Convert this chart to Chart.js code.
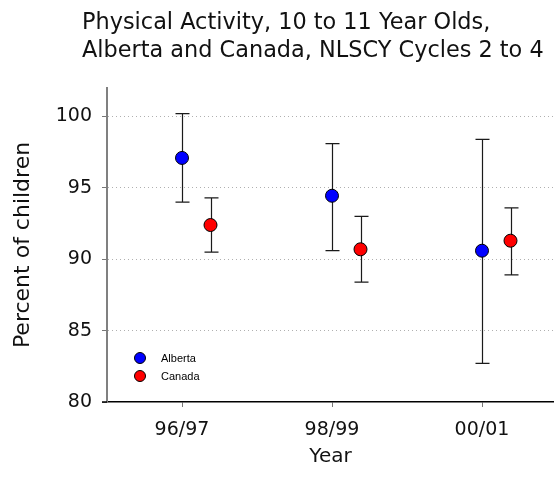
<!DOCTYPE html>
<html>
<head>
<meta charset="utf-8">
<script src="https://cdn.jsdelivr.net/npm/chart.js@4.4.0/dist/chart.umd.min.js"></script>
<style>
    html, body { margin: 0; padding: 0; background: #fff; overflow: hidden; }
    #wrap { width: 554px; height: 477px; position: relative; }
</style>
</head>
<body>
<div id="wrap"><canvas id="activityChart"></canvas></div>
<script>
const years = ['96/97', '98/99', '00/01'];

const albertaValues = [97.1, 94.45, 90.6];
const albertaLow = [94.0, 90.6, 82.7];
const albertaHigh = [100.2, 98.1, 98.4];

const canadaValues = [92.4, 90.7, 91.3];
const canadaLow = [90.5, 88.4, 88.9];
const canadaHigh = [94.3, 93.0, 93.6];

const yTicks = [80, 85, 90, 95, 100];
const titleLines = ['Physical Activity, 10 to 11 Year Olds,', 'Alberta and Canada, NLSCY Cycles 2 to 4'];

const FONT = "'DejaVu Sans', Verdana, sans-serif";
const CANADA_SHIFT = 0.19;

function points(values, shift) {
    return values.map((v, i) => ({ x: i + 0.5 + shift, y: v }));
}

// whiskers with caps, drawn under the markers
const errorBars = {
    id: 'errorBars',
    beforeDatasetsDraw(chart) {
        const { ctx, scales: { x, y } } = chart;
        ctx.save();
        ctx.strokeStyle = '#1a1a1a';
        ctx.lineWidth = 1.2;
        chart.data.datasets.forEach(ds => {
            ds.data.forEach((p, i) => {
                const px = Math.round(x.getPixelForValue(p.x)) + 0.5;
                const top = y.getPixelForValue(ds.highs[i]);
                const bot = y.getPixelForValue(ds.lows[i]);
                ctx.beginPath();
                ctx.moveTo(px, top);
                ctx.lineTo(px, bot);
                ctx.moveTo(px - 7, top);
                ctx.lineTo(px + 7, top);
                ctx.moveTo(px - 7, bot);
                ctx.lineTo(px + 7, bot);
                ctx.stroke();
            });
        });
        ctx.restore();
    }
};

// two-line title, the small legend inside the plot, dark tick at the x axis
const decorations = {
    id: 'decorations',
    afterDraw(chart) {
        const ctx = chart.ctx;
        const area = chart.chartArea;
        ctx.save();
        ctx.strokeStyle = '#000';
        ctx.lineWidth = 1.5;
        ctx.beginPath();
        ctx.moveTo(area.left - 5, area.bottom);
        ctx.lineTo(area.left, area.bottom);
        ctx.stroke();

        ctx.fillStyle = '#111';
        ctx.font = '22.4px ' + FONT;
        ctx.textBaseline = 'alphabetic';
        ctx.textAlign = 'left';
        ctx.fillText(titleLines[0], 82, 29);
        ctx.fillText(titleLines[1], 82, 57);

        const items = [
            { label: 'Alberta', color: '#0000ff', y: 358 },
            { label: 'Canada', color: '#ff0000', y: 376 }
        ];
        ctx.font = "11px 'Liberation Sans', Arial, sans-serif";
        ctx.textBaseline = 'middle';
        items.forEach(it => {
            ctx.beginPath();
            ctx.arc(140, it.y, 5.5, 0, Math.PI * 2);
            ctx.fillStyle = it.color;
            ctx.fill();
            ctx.lineWidth = 1;
            ctx.strokeStyle = '#000';
            ctx.stroke();
            ctx.fillStyle = '#000';
            ctx.fillText(it.label, 161, it.y + 1);
        });
        ctx.restore();
    }
};

const ctx = document.getElementById('activityChart').getContext('2d');
new Chart(ctx, {
    type: 'scatter',
    data: {
        datasets: [
            {
                label: 'Alberta',
                data: points(albertaValues, 0),
                lows: albertaLow,
                highs: albertaHigh,
                backgroundColor: '#0000ff',
                borderColor: '#000',
                borderWidth: 1,
                pointRadius: 6.5,
                pointHoverRadius: 6.5
            },
            {
                label: 'Canada',
                data: points(canadaValues, CANADA_SHIFT),
                lows: canadaLow,
                highs: canadaHigh,
                backgroundColor: '#ff0000',
                borderColor: '#000',
                borderWidth: 1,
                pointRadius: 6.5,
                pointHoverRadius: 6.5
            }
        ]
    },
    options: {
        responsive: true,
        maintainAspectRatio: false,
        animation: false,
        layout: { autoPadding: false, padding: { top: 88, left: 0, right: 0, bottom: 0 } },
        plugins: {
            legend: { display: false },
            title: { display: false },
            tooltip: { enabled: false }
        },
        scales: {
            x: {
                type: 'linear',
                min: 0,
                max: 2.98,
                afterFit: s => {
                    s.height = 75;
                    s.paddingLeft = 0;
                    s.paddingRight = 0;
                },
                afterBuildTicks: s => { s.ticks = years.map((_, i) => ({ value: i + 0.5 })); },
                ticks: {
                    padding: 12,
                    color: '#111',
                    font: { family: FONT, size: 19 },
                    callback: v => years[Math.round(v - 0.5)]
                },
                grid: { drawOnChartArea: false, tickLength: 5, tickColor: '#777' },
                border: { color: '#000', width: 1.5 },
                title: {
                    display: true,
                    text: 'Year',
                    color: '#111',
                    font: { family: FONT, size: 20 },
                    padding: { top: 0, bottom: 8 }
                }
            },
            y: {
                min: 80,
                max: 102,
                afterFit: s => { s.width = 107; },
                afterBuildTicks: s => { s.ticks = yTicks.map(v => ({ value: v })); },
                ticks: {
                    padding: 10,
                    color: '#111',
                    font: { family: FONT, size: 19 }
                },
                grid: {
                    color: c => c.tick && c.tick.value === 80 ? 'rgba(0,0,0,0)' : '#b0b0b0',
                    lineWidth: 1,
                    tickLength: 5,
                    tickColor: '#777'
                },
                border: { color: '#808080', width: 2, dash: [1, 3] },
                title: {
                    display: true,
                    text: 'Percent of children',
                    color: '#111',
                    font: { family: FONT, size: 22 },
                    padding: { top: 10, bottom: 0 }
                }
            }
        }
    },
    plugins: [errorBars, decorations]
});
</script>
</body>
</html>
